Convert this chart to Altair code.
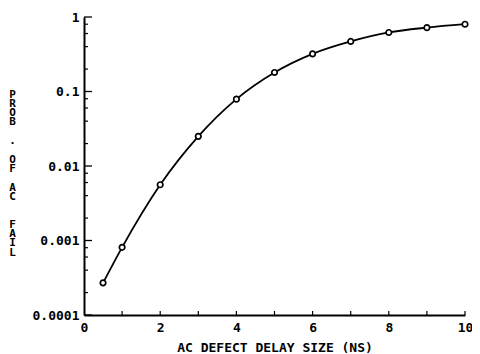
import altair as alt
import pandas as pd

# data
delay_ns = [0.5, 1, 2, 3, 4, 5, 6, 7, 8, 9, 10]
prob_fail = [0.00027, 0.00081, 0.0056, 0.025, 0.079, 0.18, 0.32, 0.47, 0.62, 0.72, 0.80]

y_major = [0.0001, 0.001, 0.01, 0.1, 1]
y_major_labels = ["0.0001", "0.001", "0.01", "0.1", "1"]
y_minor = [0.0002, 0.0004, 0.0006, 0.0008,
           0.002, 0.004, 0.006, 0.008,
           0.02, 0.04, 0.06, 0.08,
           0.2, 0.4, 0.6, 0.8]
x_ticks = [1, 2, 3, 4, 5, 6, 7, 8, 9, 10]
x_labels = [0, 2, 4, 6, 8, 10]

NB = "\u200b"
y_title = ["P", "R", "O", "B", NB, ".", NB, "O", "F", NB, "A", "C", NB, NB, "F", "A", "I", "L"]
x_title = "AC DEFECT DELAY SIZE (NS)"

W, H = 381, 298
FONT = "DejaVu Sans Mono"

df = pd.DataFrame({"x": delay_ns, "y": prob_fail})
xs = alt.Scale(domain=[0, 10], nice=False)
ys = alt.Scale(type="log", domain=[0.0001, 1], nice=False)

label_map = "{" + ",".join(f"'{v}':'{l}'" for v, l in zip(y_major, y_major_labels)) + "}"

x_axis = alt.Axis(
    values=x_labels, title=x_title, tickSize=0, labelPadding=6,
    labelFont=FONT, labelFontSize=13, labelFontWeight="bold", labelColor="black",
    titleFont=FONT, titleFontSize=13, titleFontWeight="bold", titleColor="black",
    titlePadding=7, domainColor="black", domainWidth=2, grid=False,
    labelFlush=False)
y_axis = alt.Axis(
    values=y_major, labelExpr=label_map + "[datum.label] || datum.label",
    format="~g", tickSize=0, labelPadding=5,
    labelFont=FONT, labelFontSize=13, labelFontWeight="bold", labelColor="black",
    title=y_title, titleAngle=0, titleX=-72, titleY=71, titleAlign="center",
    titleBaseline="top", titleLineHeight=9.3, titleFont=FONT, titleFontSize=11,
    titleFontWeight="bold", titleColor="black",
    domainColor="black", domainWidth=2, grid=False)

base = alt.Chart(df)

line = base.mark_line(color="black", strokeWidth=1.8, interpolate="monotone").encode(
    x=alt.X("x:Q", scale=xs, axis=x_axis),
    y=alt.Y("y:Q", scale=ys, axis=y_axis),
)

pts = base.mark_point(shape="circle", filled=True, fill="white", stroke="black",
                      strokeWidth=1.7, size=30, opacity=1).encode(
    x=alt.X("x:Q", scale=xs, axis=x_axis),
    y=alt.Y("y:Q", scale=ys, axis=y_axis),
)

ymaj = alt.Chart(pd.DataFrame({"y": y_major})).mark_rule(color="black", strokeWidth=1.3).encode(
    y=alt.Y("y:Q", scale=ys, axis=y_axis), x=alt.value(0), x2=alt.value(8))
ymin = alt.Chart(pd.DataFrame({"y": y_minor})).mark_rule(color="black", strokeWidth=1.2).encode(
    y=alt.Y("y:Q", scale=ys, axis=y_axis), x=alt.value(0), x2=alt.value(4))
xt = alt.Chart(pd.DataFrame({"x": x_ticks})).mark_rule(color="black", strokeWidth=1.2).encode(
    x=alt.X("x:Q", scale=xs, axis=x_axis), y=alt.value(H), y2=alt.value(H - 4))

chart = alt.layer(line, ymaj, ymin, xt, pts).properties(
    width=W, height=H,
    autosize=alt.AutoSizeParams(type="none"),
    padding={"left": 76, "top": 9, "right": 7, "bottom": 38},
).configure(background="white").configure_view(stroke=None)

chart.save("out.html", embed_options={"renderer": "svg", "actions": False})
